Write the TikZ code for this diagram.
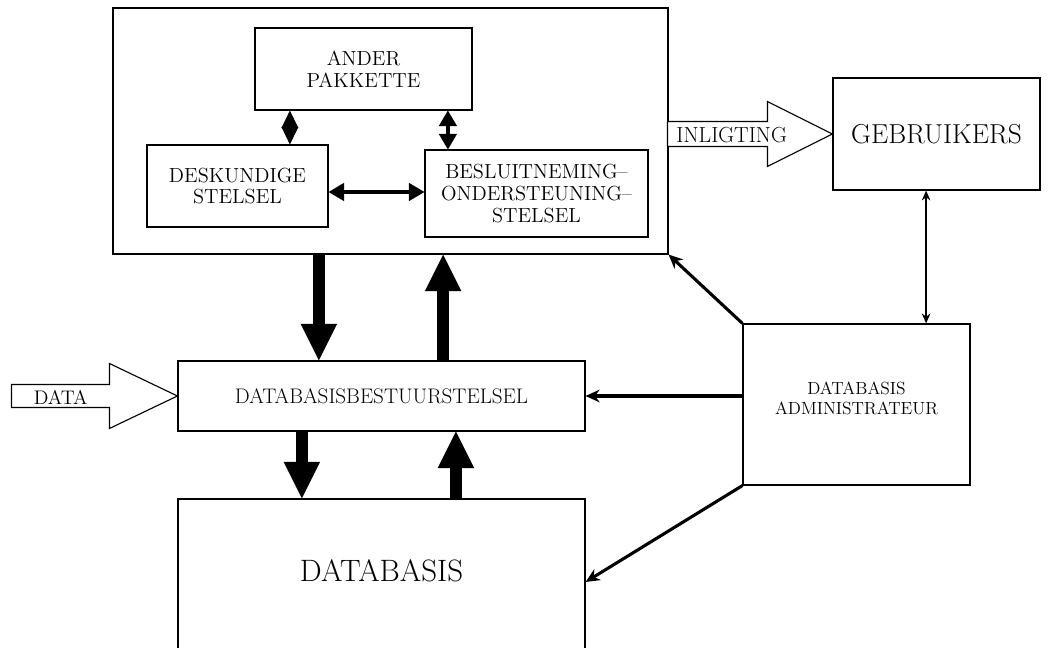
\documentclass[tikz,border=0pt]{standalone}
\usepackage{tikz}
\usetikzlibrary{arrows.meta, positioning, calc}

\newcommand{\boxfont}{\fontsize{14.5}{15.5}\selectfont}

\tikzset{
    box/.style={rectangle,draw,line width=0.8pt,align=center,font=\boxfont},
    boxtext/.style={align=center,font=\boxfont},
    bigarrow/.style={line width=8.5pt,-{Triangle[length=26pt,width=26pt,line width=0pt]}},
    thinarrow/.style={line width=2.2pt,-{Stealth[length=10pt,width=9pt]}},
    twoway/.style={line width=2.6pt,{Triangle[length=11pt,width=13pt,line width=0pt]}-{Triangle[length=11pt,width=13pt,line width=0pt]}},
    hollow/.style={draw,line width=0.8pt,fill=white},
}

\begin{document}
\begin{tikzpicture}
    \useasboundingbox (0,0) rectangle (26.3,16.2);

    % boxes
    \node[box,minimum width=13.875cm,minimum height=6.15cm] (outer) at (9.7625,12.925) {};
    \node[box,minimum width=5.425cm,minimum height=2.05cm] (ander) at (9.0875,14.475) {ANDER\\PAKKETTE};
    \node[box,minimum width=4.525cm,minimum height=2.05cm] (desk) at (5.9375,11.55) {DESKUNDIGE\\STELSEL};
    \node[box,minimum width=5.575cm,minimum height=2.175cm] (besl) at (13.4125,11.3625) {BESLUITNEMING--\\ONDERSTEUNING--\\STELSEL};
    \node[box,minimum width=5.175cm,minimum height=2.8cm,font=\fontsize{19.5}{22}\selectfont] (geb) at (23.4125,12.85) {GEBRUIKERS};
    \node[box,minimum width=5.675cm,minimum height=4.025cm] (admin) at (21.4125,6.0875) {};
    \node[boxtext,font=\fontsize{12.5}{14.5}\selectfont] (admintext) at ([yshift=0.15cm]admin.center) {DATABASIS\\ADMINISTRATEUR};
    \node[box,minimum width=10.175cm,minimum height=1.75cm,font=\fontsize{15}{17}\selectfont] (dbms) at (9.5375,6.3) {DATABASISBESTUURSTELSEL};
    \node[box,minimum width=10.175cm,minimum height=5cm] (db) at (9.5375,1.225) {};
    \node[font=\fontsize{22}{26}\selectfont] (dbtext) at ([yshift=-1.8cm]db.north) {DATABASIS};

    % links inside the top box
    \draw[line width=0.5pt,{Triangle[length=12.5pt,width=12pt]}-{Triangle[length=12.5pt,width=12pt]}]
        ([xshift=-1.84cm]ander.south) -- ([xshift=-1.84cm]ander.south |- desk.north);
    \draw[twoway] ([xshift=2.11cm]ander.south) -- ([xshift=2.11cm]ander.south |- besl.north);
    \draw[twoway,line width=3pt] ([yshift=-0.15cm]desk.east) -- ([yshift=-0.15cm]desk.east -| besl.west);

    % data flow to and from the database system
    \draw[bigarrow] ([xshift=-1.79cm]outer.south) -- ([xshift=-1.79cm]outer.south |- dbms.north);
    \draw[bigarrow] ([xshift=1.54cm]dbms.north) -- ([xshift=1.54cm]dbms.north |- outer.south);
    \draw[bigarrow] ([xshift=-1.99cm]dbms.south) -- ([xshift=-1.99cm]dbms.south |- db.north);
    \draw[bigarrow] ([xshift=1.86cm]db.north) -- ([xshift=1.86cm]db.north |- dbms.south);

    % administrator
    \draw[thinarrow] (admin.north west) -- (outer.south east);
    \draw[thinarrow] (admin.west |- dbms.east) -- (dbms.east);
    \draw[thinarrow] (admin.south west) -- ([yshift=0.425cm]db.east);
    \draw[line width=1.2pt,{Stealth[length=7pt,width=6pt]}-{Stealth[length=7pt,width=6pt]}]
        ([xshift=-0.26cm]geb.south) -- ([xshift=-0.26cm]geb.south |- admin.north);

    % block arrows
    \coordinate (intip) at (geb.west);
    \draw[hollow] ($(intip)+(-4.125,0.3125)$) -- ($(intip)+(-1.625,0.3125)$) -- ($(intip)+(-1.625,0.8125)$)
        -- (intip) -- ($(intip)+(-1.625,-0.8125)$) -- ($(intip)+(-1.625,-0.3125)$) -- ($(intip)+(-4.125,-0.3125)$) -- cycle;
    \node[font=\fontsize{15.5}{17}\selectfont] (inlig) at ($(intip)+(-2.52,-0.03)$) {INLIGTING};

    \coordinate (datatip) at (dbms.west);
    \draw[hollow] ($(datatip)+(-4.15,0.2875)$) -- ($(datatip)+(-1.7,0.2875)$) -- ($(datatip)+(-1.7,0.8125)$)
        -- (datatip) -- ($(datatip)+(-1.7,-0.8125)$) -- ($(datatip)+(-1.7,-0.2875)$) -- ($(datatip)+(-4.15,-0.2875)$) -- cycle;
    \node[font=\fontsize{14}{16}\selectfont] (datalbl) at ($(datatip)+(-2.92,-0.03)$) {DATA};
\end{tikzpicture}
\end{document}
